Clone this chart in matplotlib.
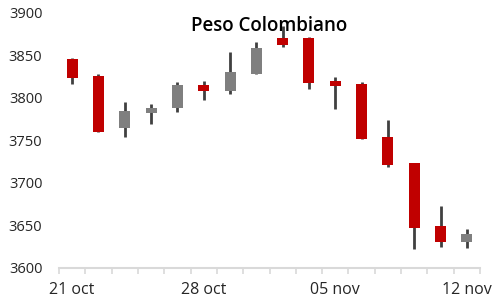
import matplotlib
matplotlib.use("Agg")
import matplotlib.pyplot as plt
import numpy as np

dates = ["21 oct", "22 oct", "23 oct", "24 oct", "25 oct",
         "28 oct", "29 oct", "30 oct", "31 oct", "01 nov",
         "05 nov", "06 nov", "07 nov", "08 nov", "11 nov", "12 nov"]
open_ = [3846, 3825.5, 3765, 3782.5, 3788.5, 3815.5, 3808.5, 3828.5,
         3870.5, 3870.5, 3820, 3816.5, 3754, 3723, 3649, 3630]
high = [3847, 3828, 3795, 3792.5, 3819, 3820, 3854, 3865.5,
        3885, 3872, 3824.5, 3819, 3774, 3723, 3673, 3646]
low = [3817, 3760, 3754.5, 3769.5, 3784, 3797.5, 3805, 3828.5,
       3860.5, 3811, 3787.5, 3752, 3719, 3622.5, 3625, 3624]
close = [3823, 3760.5, 3785, 3788, 3815.5, 3808.5, 3830.5, 3858.5,
         3862.5, 3818, 3814.5, 3752, 3721, 3647.5, 3630, 3639.5]
shown_labels = ["21 oct", "28 oct", "05 nov", "12 nov"]
yticks = [3600, 3650, 3700, 3750, 3800, 3850, 3900]

FONT = ["Open Sans", "DejaVu Sans"]
plt.rcParams["font.family"] = FONT

fig = plt.figure(figsize=(5.03, 3.07), dpi=100)
ax = fig.add_axes([59/503, 1-268/307, (480-59)/503, (268-13)/307])

x = np.arange(len(dates))
o = np.array(open_); c = np.array(close)
up = c >= o
colors = np.where(up, "#7F7F7F", "#C00000")

ax.vlines(x, low, high, color="#404040", linewidth=2, zorder=1)
bottoms = np.minimum(o, c)
heights = np.maximum(np.abs(c - o), 1.5)
ax.bar(x, heights, bottom=bottoms, width=0.42, color=colors, zorder=2)

ax.set_xlim(-0.5, len(dates) - 0.5)
ax.set_ylim(3600, 3900)
ax.set_yticks(yticks)
ax.set_yticklabels([str(v) for v in yticks], fontsize=10.5, color="#262626")

major = [dates.index(d) for d in shown_labels]
ax.set_xticks(major)
ax.set_xticklabels(shown_labels, fontsize=11.5, color="#262626")
ax.set_xticks(np.arange(-0.5, len(dates)), minor=True)
ax.tick_params(axis="x", which="major", length=0, pad=10)
ax.tick_params(axis="x", which="minor", length=4.5, width=1.2, color="#D9D9D9")
ax.tick_params(axis="y", length=0, pad=12)

for s in ["top", "right", "left"]:
    ax.spines[s].set_visible(False)
ax.spines["bottom"].set_color("#D9D9D9")
ax.spines["bottom"].set_linewidth(1.5)

fig.text(269.5/503, 1-31/307, "Peso Colombiano", ha="center", va="baseline",
         fontsize=13.5, fontweight="semibold", color="black", zorder=5)

fig.savefig("out.png", dpi=100)
